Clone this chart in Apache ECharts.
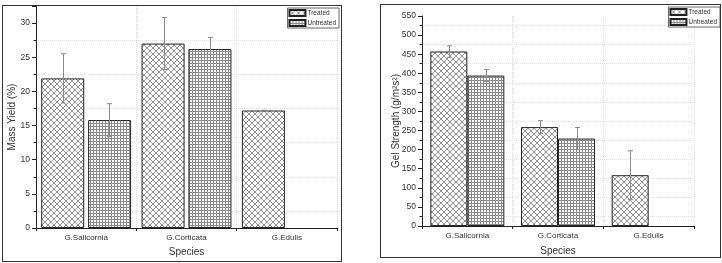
<!DOCTYPE html>
<html>
<head>
<meta charset="utf-8">
<script src="https://cdn.jsdelivr.net/npm/echarts@6/dist/echarts.min.js"></script>
<style>
  body { margin: 0; background: #fff; }
  .panel { position: absolute; border: 1px solid #333; box-sizing: border-box; }
  #chartYield { left: 2px; top: 5px; width: 340px; height: 257px; }
  #chartGel { left: 380px; top: 4px; width: 341px; height: 254px; }
</style>
</head>
<body>
<div id="chartYield" class="panel"></div>
<div id="chartGel" class="panel"></div>
<script>
  // data
  var species = ['G.Salicornia', 'G.Corticata', 'G.Edulis']
  var yieldTreated = [21.9, 27.0, 17.2]
  var yieldTreatedErr = [3.6, 3.8, 0.05]
  var yieldUntreated = [15.8, 26.2, null]
  var yieldUntreatedErr = [2.4, 1.7, null]
  var gelTreated = [457, 259, 133]
  var gelTreatedErr = [15, 17, 64]
  var gelUntreated = [394, 229, null]
  var gelUntreatedErr = [16, 29, null]

  var FONT = '"Liberation Sans", Arial, sans-serif'

  // hatch patterns
  function crossHatch() {
    var c = document.createElement('canvas')
    c.width = 6; c.height = 6
    var ctx = c.getContext('2d')
    ctx.fillStyle = '#fff'; ctx.fillRect(0, 0, 6, 6)
    ctx.strokeStyle = '#777'; ctx.lineWidth = 0.8
    ctx.beginPath()
    ctx.moveTo(-1, -1); ctx.lineTo(7, 7)
    ctx.moveTo(7, -1); ctx.lineTo(-1, 7)
    ctx.stroke()
    return c
  }
  function gridHatch() {
    var c = document.createElement('canvas')
    c.width = 3; c.height = 3
    var ctx = c.getContext('2d')
    ctx.fillStyle = '#fff'; ctx.fillRect(0, 0, 3, 3)
    ctx.fillStyle = '#8a8a8a'
    ctx.fillRect(0, 0, 3, 1)
    ctx.fillRect(0, 0, 1, 3)
    return c
  }
  var treatedFill = { image: crossHatch(), repeat: 'repeat' }
  var untreatedFill = { image: gridHatch(), repeat: 'repeat' }

  function errData(vals, errs) {
    var out = []
    for (var i = 0; i < vals.length; i++) {
      if (vals[i] != null) out.push([i, vals[i], errs[i]])
    }
    return out
  }

  function errSeries(vals, errs, offset) {
    return {
      type: 'custom',
      data: errData(vals, errs),
      z: 5,
      silent: true,
      renderItem: function(params, api) {
        var idx = api.value(0), v = api.value(1), e = api.value(2)
        var top = api.coord([idx, v + e])
        var bot = api.coord([idx, v - e])
        var x = Math.round(top[0] + offset) + 0.5
        var cap = 2.5
        var st = { stroke: '#8a8a8a', lineWidth: 1 }
        return {
          type: 'group',
          children: [
            { type: 'line', shape: { x1: x, y1: top[1], x2: x, y2: bot[1] }, style: st },
            { type: 'line', shape: { x1: x - cap, y1: top[1], x2: x + cap, y2: top[1] }, style: st },
            { type: 'line', shape: { x1: x - cap, y1: bot[1], x2: x + cap, y2: bot[1] }, style: st }
          ]
        }
      }
    }
  }

  function makeOption(cfg) {
    return {
      animation: false,
      textStyle: { fontFamily: FONT },
      grid: Object.assign({ outerBoundsMode: 'none', containLabel: false }, cfg.grid),
      legend: {
        data: ['Treated', 'Untreated'],
        orient: 'vertical',
        right: cfg.legendRight,
        top: cfg.legendTop,
        icon: 'rect',
        itemWidth: 16,
        itemHeight: 6,
        itemGap: 2,
        padding: [1, 3, 1, 1],
        borderColor: '#666',
        borderWidth: 1,
        backgroundColor: '#fff',
        textStyle: { fontSize: 6.5, color: '#333', fontFamily: FONT, padding: [0, 0, 0, -3] }
      },
      xAxis: {
        type: 'category',
        data: species,
        name: 'Species',
        nameLocation: 'middle',
        nameGap: cfg.xNameGap,
        nameMoveOverlap: false,
        nameTextStyle: { fontSize: 10, color: '#333', fontFamily: FONT },
        axisLine: { lineStyle: { color: '#222', width: 1 } },
        axisTick: { show: true, length: 3, lineStyle: { color: '#222' } },
        axisLabel: { fontSize: 8, color: '#333', margin: 6, fontFamily: FONT },
        splitLine: { show: true, lineStyle: { color: '#ddd', type: 'dotted' } }
      },
      yAxis: {
        type: 'value',
        min: 0,
        max: cfg.yMax,
        interval: cfg.yInterval,
        name: cfg.yName,
        nameLocation: 'middle',
        nameGap: cfg.yNameGap,
        nameMoveOverlap: false,
        nameTextStyle: { fontSize: 10, color: '#333', fontFamily: FONT },
        axisLine: { show: true, lineStyle: { color: '#222', width: 1 } },
        axisTick: { show: true, length: 4, lineStyle: { color: '#222' } },
        minorTick: { show: true, splitNumber: 2, length: 2.5, lineStyle: { color: '#222' } },
        axisLabel: { fontSize: 8.5, color: '#333', margin: 6, showMaxLabel: cfg.showMax, fontFamily: FONT },
        splitLine: { show: false },
        minorSplitLine: { show: true, lineStyle: { color: '#e2e2e2', type: 'dotted' } }
      },
      series: [
        {
          name: 'Treated',
          type: 'bar',
          data: cfg.treated,
          barWidth: cfg.barWidth,
          barGap: cfg.barGap,
          itemStyle: { color: treatedFill, borderColor: '#222', borderWidth: 1 }
        },
        {
          name: 'Untreated',
          type: 'bar',
          data: cfg.untreated,
          barWidth: cfg.barWidth,
          itemStyle: { color: untreatedFill, borderColor: '#222', borderWidth: 1 }
        },
        errSeries(cfg.treated, cfg.treatedErr, -cfg.offset),
        errSeries(cfg.untreated, cfg.untreatedErr, cfg.offset)
      ]
    }
  }

  var chartYield = echarts.init(document.getElementById('chartYield'))
  chartYield.setOption(makeOption({
    grid: { left: 33, right: 4, top: 0, bottom: 33 },
    legendRight: 2, legendTop: 2,
    xNameGap: 19,
    yMax: 32.5, yInterval: 5, showMax: false,
    yName: 'Mass Yield (%)', yNameGap: 19,
    treated: yieldTreated, treatedErr: yieldTreatedErr,
    untreated: yieldUntreated, untreatedErr: yieldUntreatedErr,
    barWidth: 43, barGap: '9%', offset: 23
  }))

  var chartGel = echarts.init(document.getElementById('chartGel'))
  chartGel.setOption(makeOption({
    grid: { left: 41, right: 26, top: 11, bottom: 31 },
    legendRight: 0, legendTop: 2,
    xNameGap: 20,
    yMax: 550, yInterval: 50, showMax: true,
    yName: 'Gel Strength (g/m²s²)', yNameGap: 21,
    treated: gelTreated, treatedErr: gelTreatedErr,
    untreated: gelUntreated, untreatedErr: gelUntreatedErr,
    barWidth: 37, barGap: '0%', offset: 18.5
  }))
</script>
</body>
</html>
